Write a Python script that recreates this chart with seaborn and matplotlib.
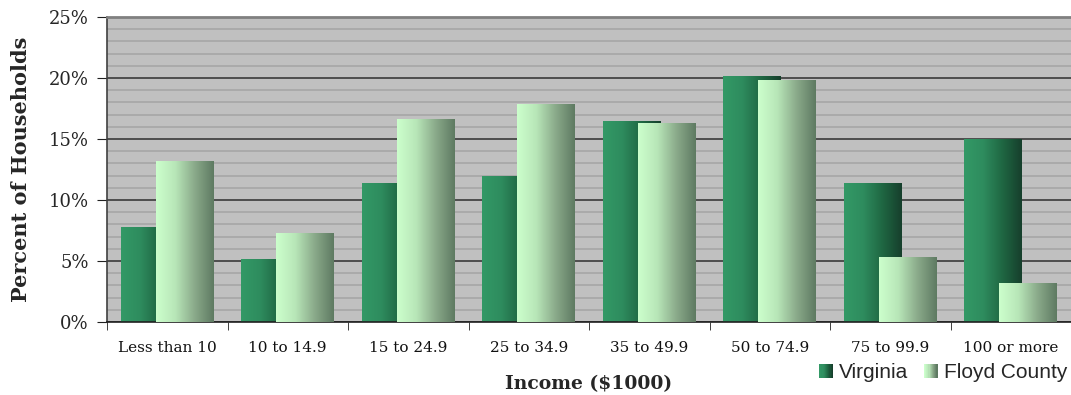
import numpy as np
import pandas as pd
import matplotlib
matplotlib.use("Agg")
import matplotlib.pyplot as plt
import seaborn as sns
from matplotlib.colors import LinearSegmentedColormap
from matplotlib.patches import Rectangle
from matplotlib.legend_handler import HandlerBase
from matplotlib.ticker import MultipleLocator, FuncFormatter

categories = ["Less than 10", "10 to 14.9", "15 to 24.9", "25 to 34.9",
              "35 to 49.9", "50 to 74.9", "75 to 99.9", "100 or more"]
virginia = [7.8, 5.2, 11.4, 12.0, 16.5, 20.2, 11.4, 15.0]
floyd = [13.2, 7.3, 16.6, 17.9, 16.3, 19.8, 5.3, 3.2]
series_names = ["Virginia", "Floyd County"]

df = pd.DataFrame({
    "Income": categories * 2,
    "Percent": virginia + floyd,
    "Series": [series_names[0]] * len(categories) + [series_names[1]] * len(categories),
})

sns.set_style("white")
plt.rcParams["font.family"] = ["DejaVu Serif"]

fig = plt.figure(figsize=(10.71, 3.95), dpi=100)
ax = fig.add_axes([107 / 1071, 1 - 322 / 395, 964 / 1071, 305 / 395])
ax.set_facecolor("#C0C0C0")

sns.barplot(data=df, x="Income", y="Percent", hue="Series", order=categories,
            hue_order=series_names, ax=ax, width=0.58, gap=-0.65,
            palette=["#2F9464", "#C8FCCA"], legend=False, saturation=1)

cmaps = {
    0: LinearSegmentedColormap.from_list("v", ["#339966", "#2E8C5E", "#1F6642", "#163F2C"]),
    1: LinearSegmentedColormap.from_list("f", ["#CCFFCC", "#B8E6B8", "#8AAA8A", "#5E7A62"]),
}
grad = np.linspace(0, 1, 256).reshape(1, -1)

bars = list(ax.patches)
n = len(categories)
for i, p in enumerate(bars):
    s = i // n
    x0, y0 = p.get_x(), p.get_y()
    w, h = p.get_width(), p.get_height()
    im = ax.imshow(grad, cmap=cmaps[s], aspect="auto",
                   extent=[x0, x0 + w, y0, y0 + h], zorder=2 + s, interpolation="bilinear")
    im.set_clip_path(p)
    p.set_zorder(2 + s)
    p.set_edgecolor("none")

ax.set_xlim(-0.5, n - 0.5)
ax.set_ylim(0, 25)
ax.yaxis.set_major_locator(MultipleLocator(5))
ax.yaxis.set_minor_locator(MultipleLocator(1))
ax.yaxis.set_major_formatter(FuncFormatter(lambda v, _: f"{int(v)}%"))
ax.grid(which="minor", axis="y", color="#A4A4A4", linewidth=1.1, zorder=0)
ax.grid(which="major", axis="y", color="#3A3A3A", linewidth=1.2, zorder=0)
ax.grid(axis="x", visible=False)
ax.set_axisbelow(True)

ax.spines["right"].set_visible(False)
ax.spines["top"].set_color("#808080")
ax.spines["top"].set_linewidth(2)
ax.spines["left"].set_color("#404040")
ax.spines["bottom"].set_color("#202020")
ax.spines["left"].set_linewidth(1.2)
ax.spines["bottom"].set_linewidth(1.2)

ax.set_xticks(np.arange(n))
ax.set_xticklabels(categories, fontsize=11, color="#111111")
ax.set_xticks(np.arange(n + 1) - 0.5, minor=True)
ax.tick_params(axis="x", which="major", length=0, pad=14)
ax.tick_params(axis="x", which="minor", length=6, color="#202020", direction="out", bottom=True)
ax.tick_params(axis="y", which="major", length=7, color="#202020", direction="out", left=True,
               labelsize=13, pad=6)
ax.tick_params(axis="y", which="minor", length=0)

ax.set_xlabel("Income ($1000)", fontsize=13.5, fontweight="bold", labelpad=14)
ax.set_ylabel("Percent of Households", fontsize=15, fontweight="bold", labelpad=13)


class GradHandler(HandlerBase):
    def __init__(self, cmap):
        super().__init__()
        self.cmap = cmap

    def create_artists(self, legend, orig_handle, xdescent, ydescent, width, height, fontsize, trans):
        arts = []
        k = 12
        sq = height * 1.0
        x0 = width - sq
        for j in range(k):
            r = Rectangle((x0 + j * sq / k - xdescent, -ydescent), sq / k + 0.3, sq,
                          facecolor=self.cmap(j / (k - 1)), edgecolor="none", transform=trans)
            arts.append(r)
        return arts


h0 = Rectangle((0, 0), 1, 1)
h1 = Rectangle((0, 0), 1, 1)
leg = fig.legend([h0, h1], series_names, loc="lower right", bbox_to_anchor=(1.014, -0.015),
                 ncol=2, frameon=False, handler_map={h0: GradHandler(cmaps[0]), h1: GradHandler(cmaps[1])},
                 prop={"family": "Liberation Sans", "size": 15}, handlelength=0.9, handletextpad=0.3,
                 columnspacing=0.5, handleheight=0.65)

fig.savefig("out.png", dpi=100)
